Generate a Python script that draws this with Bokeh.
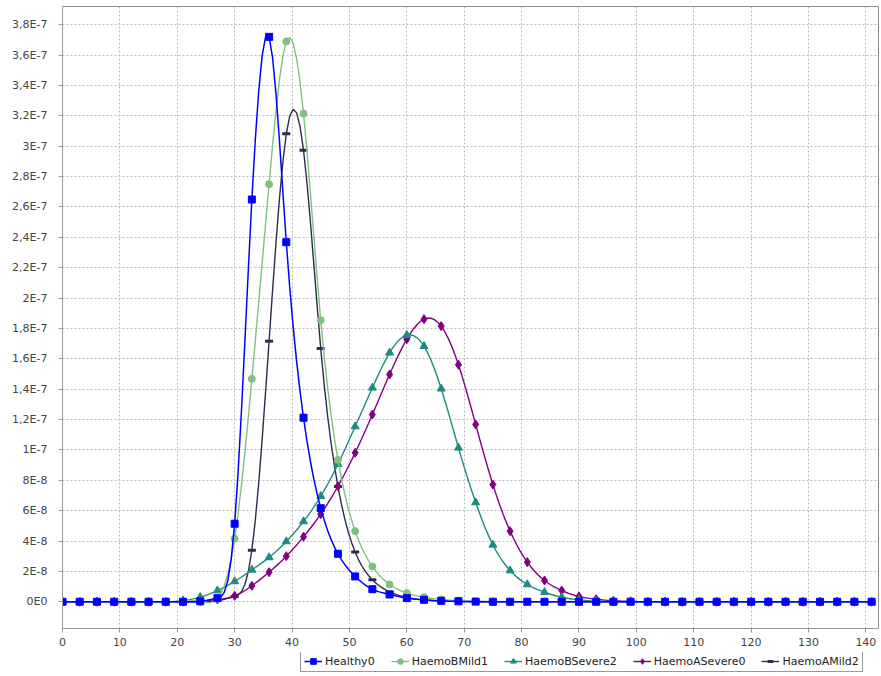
import numpy as np
from bokeh.plotting import figure
from bokeh.layouts import column
from bokeh.models import FixedTicker, CustomJSTickFormatter, Legend, LegendItem, Range1d
from bokeh.embed import file_html
from bokeh.resources import INLINE

# ---------------- data (x sampled every 3 units) ----------------
x_values = list(range(0, 142, 3))  # 0 .. 141

healthy0 = [0, 0, 0, 0, 0, 0, 0, 0, 0.3e-9, 2.4e-9,
            51.4e-9, 264.9e-9, 372.0e-9, 236.8e-9, 121.2e-9, 61.6e-9, 31.6e-9, 16.7e-9, 8.3e-9, 4.8e-9,
            2.4e-9, 1.3e-9, 0.6e-9, 0.3e-9, 0.1e-9, 0, 0, 0, 0, 0,
            0, 0, 0, 0, 0, 0, 0, 0, 0, 0,
            0, 0, 0, 0, 0, 0, 0, 0]

haemo_b_mild1 = [0, 0, 0, 0, 0, 0, 0, 0, 0.5e-9, 2.0e-9,
                 41.5e-9, 146.8e-9, 275.0e-9, 369.0e-9, 321.5e-9, 185.4e-9, 93.5e-9, 46.5e-9, 23.2e-9, 11.4e-9,
                 5.7e-9, 3.0e-9, 1.6e-9, 0.8e-9, 0.4e-9, 0.2e-9, 0, 0, 0, 0,
                 0, 0, 0, 0, 0, 0, 0, 0, 0, 0,
                 0, 0, 0, 0, 0, 0, 0, 0]

haemo_b_severe2 = [0, 0, 0, 0, 0, 0, 0, 0.8e-9, 3.0e-9, 7.4e-9,
                   13.4e-9, 21.0e-9, 29.2e-9, 39.7e-9, 52.9e-9, 69.5e-9, 90.6e-9, 115.4e-9, 140.9e-9, 164.0e-9,
                   175.6e-9, 168.3e-9, 140.3e-9, 101.4e-9, 65.4e-9, 37.5e-9, 20.6e-9, 11.4e-9, 6.3e-9, 3.0e-9,
                   1.3e-9, 0.5e-9, 0.2e-9, 0, 0, 0, 0, 0, 0, 0,
                   0, 0, 0, 0, 0, 0, 0, 0]

haemo_a_severe0 = [0, 0, 0, 0, 0, 0, 0, 0, 0.5e-9, 1.5e-9,
                   3.9e-9, 10.5e-9, 19.5e-9, 30.0e-9, 42.8e-9, 57.7e-9, 76.1e-9, 98.1e-9, 123.3e-9, 149.7e-9,
                   172.9e-9, 186.1e-9, 181.5e-9, 156.1e-9, 116.8e-9, 77.2e-9, 46.5e-9, 26.1e-9, 14.0e-9, 7.4e-9,
                   3.5e-9, 1.7e-9, 0.7e-9, 0.3e-9, 0, 0, 0, 0, 0, 0,
                   0, 0, 0, 0, 0, 0, 0, 0]

haemo_a_mild2 = [0, 0, 0, 0, 0, 0, 0, 0, 0, 0.8e-9,
                 3.5e-9, 34.0e-9, 171.6e-9, 308.2e-9, 297.4e-9, 166.8e-9, 75.9e-9, 32.7e-9, 14.5e-9, 6.5e-9,
                 2.8e-9, 1.2e-9, 0.5e-9, 0.2e-9, 0, 0, 0, 0, 0, 0,
                 0, 0, 0, 0, 0, 0, 0, 0, 0, 0,
                 0, 0, 0, 0, 0, 0, 0, 0]

series_names = ["Healthy0", "HaemoBMild1", "HaemoBSevere2", "HaemoASevere0", "HaemoAMild2"]

x_tick_values = [0, 10, 20, 30, 40, 50, 60, 70, 80, 90, 100, 110, 120, 130, 140]
y_tick_values = [0, 2e-8, 4e-8, 6e-8, 8e-8, 1e-7, 1.2e-7, 1.4e-7, 1.6e-7, 1.8e-7,
                 2e-7, 2.2e-7, 2.4e-7, 2.6e-7, 2.8e-7, 3e-7, 3.2e-7, 3.4e-7, 3.6e-7, 3.8e-7]
y_tick_labels = ["0E0", "2E-8", "4E-8", "6E-8", "8E-8", "1E-7", "1,2E-7", "1,4E-7", "1,6E-7", "1,8E-7",
                 "2E-7", "2,2E-7", "2,4E-7", "2,6E-7", "2,8E-7", "3E-7", "3,2E-7", "3,4E-7", "3,6E-7", "3,8E-7"]


def spline_curve(xs, ys, precision=5):
    """Natural cubic spline through the data points (drawing style, like a spline renderer)."""
    xs = np.asarray(xs, dtype=float)
    ys = np.asarray(ys, dtype=float)
    n = len(xs)
    h = np.diff(xs)
    A = np.zeros((n, n))
    b = np.zeros(n)
    A[0, 0] = 1.0
    A[-1, -1] = 1.0
    for i in range(1, n - 1):
        A[i, i - 1] = h[i - 1]
        A[i, i] = 2 * (h[i - 1] + h[i])
        A[i, i + 1] = h[i]
        b[i] = 6 * ((ys[i + 1] - ys[i]) / h[i] - (ys[i] - ys[i - 1]) / h[i - 1])
    M = np.linalg.solve(A, b)
    out_x, out_y = [xs[0]], [ys[0]]
    for i in range(n - 1):
        for k in range(1, precision + 1):
            t = xs[i] + h[i] * k / precision
            a = xs[i + 1] - t
            c = t - xs[i]
            val = (M[i] * a ** 3 + M[i + 1] * c ** 3) / (6 * h[i]) \
                + (ys[i] / h[i] - M[i] * h[i] / 6) * a \
                + (ys[i + 1] / h[i] - M[i + 1] * h[i] / 6) * c
            out_x.append(t)
            out_y.append(val)
    return out_x, out_y


font = "DejaVu Sans"

p = figure(width=881, height=652, x_range=(0, 142.2), y_range=(-1.76e-8, 3.92e-7),
           output_backend="svg", toolbar_location=None,
           min_border_left=62, min_border_right=3, min_border_top=6, min_border_bottom=24)

p.background_fill_color = "white"
p.border_fill_color = "white"
p.outline_line_color = "#8c8c8c"
p.outline_line_width = 1

for ax in (p.xaxis[0], p.yaxis[0]):
    ax.axis_line_color = "#9a9a9a"
    ax.major_tick_line_color = "#9a9a9a"
    ax.minor_tick_line_color = None
    ax.major_tick_in = 0
    ax.major_tick_out = 4
    ax.major_label_text_font = font
    ax.major_label_text_font_size = "11px"
    ax.major_label_text_color = "#444444"

p.xaxis.ticker = FixedTicker(ticks=x_tick_values)
p.xaxis.major_label_standoff = 5
p.yaxis.ticker = FixedTicker(ticks=y_tick_values)
p.yaxis.major_label_standoff = 11
p.yaxis.formatter = CustomJSTickFormatter(args=dict(tvals=y_tick_values, tlabels=y_tick_labels), code="""
    let best = 0; let d = Infinity;
    for (let i = 0; i < tvals.length; i++) {
        const dd = Math.abs(tvals[i] - tick);
        if (dd < d) { d = dd; best = i; }
    }
    return tlabels[best];
""")

for g in (p.xgrid[0], p.ygrid[0]):
    g.grid_line_color = "#bdbdbd"
    g.grid_line_dash = "2 2"
    g.grid_line_width = 1

styles = {
    "Healthy0": dict(color="#0000ff", marker="square", size=7, lw=1.5),
    "HaemoBMild1": dict(color="#80c080", marker="circle", size=7, lw=1.4),
    "HaemoBSevere2": dict(color="#1e8a80", marker="triangle", size=8, lw=1.4),
    "HaemoASevere0": dict(color="#800080", marker="diamond", size=9, lw=1.4),
    "HaemoAMild2": dict(color="#2c2c4c", marker="dash", size=8, lw=1.4),
}
data = {
    "Healthy0": healthy0,
    "HaemoBMild1": haemo_b_mild1,
    "HaemoBSevere2": haemo_b_severe2,
    "HaemoASevere0": haemo_a_severe0,
    "HaemoAMild2": haemo_a_mild2,
}


def add_series(fig, st, xs, ys, spline=True):
    if spline:
        sx, sy = spline_curve(xs, ys)
    else:
        sx, sy = list(xs), list(ys)
    lr = fig.line(sx, sy, line_color=st["color"], line_width=st["lw"])
    if st["marker"] == "dash":
        mr = fig.scatter(xs, ys, marker="dash", size=st["size"], line_color=st["color"], line_width=3)
    else:
        mr = fig.scatter(xs, ys, marker=st["marker"], size=st["size"],
                         fill_color=st["color"], line_color=st["color"])
    return [lr, mr]


# draw so that Healthy0 ends on top
for name in reversed(series_names):
    add_series(p, styles[name], x_values, data[name])

# ---- legend strip below the chart: same series/styles, plotted outside its view ----
lg = figure(width=881, height=24, x_range=Range1d(0, 1), y_range=Range1d(1, 2),
            output_backend="svg", toolbar_location=None,
            x_axis_location=None, y_axis_location=None,
            min_border_left=0, min_border_right=0, min_border_top=0, min_border_bottom=0)
lg.grid.visible = False
lg.outline_line_color = None
lg.background_fill_color = "white"
lg.border_fill_color = "white"

legend_renderers = {name: add_series(lg, styles[name], x_values[:2], data[name][:2], spline=False)
                    for name in series_names}

# the strip's frame is aligned with the chart frame (starts at x=62)
legend = Legend(items=[LegendItem(label=n, renderers=legend_renderers[n]) for n in series_names],
                orientation="horizontal", location=(238, 4))
legend.label_text_font = font
legend.label_text_font_size = "11px"
legend.label_text_color = "#222222"
legend.label_height = 12
legend.label_standoff = 3
legend.glyph_width = 18
legend.glyph_height = 14
legend.spacing = 16
legend.padding = 3
legend.margin = 0
legend.border_line_color = "#333333"
legend.border_line_width = 1
legend.background_fill_color = "white"
legend.background_fill_alpha = 1.0
lg.add_layout(legend, "center")

layout = column(p, lg, spacing=0)
open("out.html", "w").write(file_html(layout, INLINE))
